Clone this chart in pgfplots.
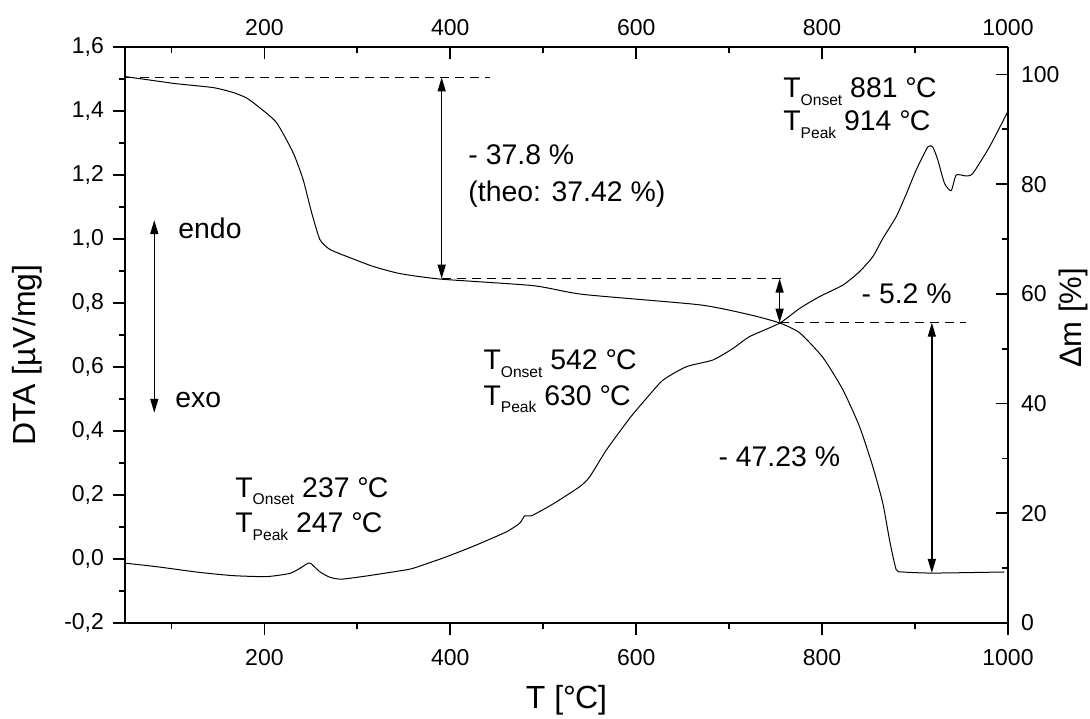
\documentclass[border=0pt]{standalone}
\usepackage{fontspec}
\setmainfont{Liberation Sans}
\usepackage{pgfplots}
\pgfplotsset{compat=1.18}
\usetikzlibrary{arrows.meta}

\newcommand{\ann}{\fontsize{14.2}{16}\selectfont}
\newcommand{\Tsub}[1]{T\raisebox{-3.8pt}{\fontsize{7.8}{9}\selectfont #1}}
\newcommand{\degC}{°\kern-0.03em C}

\tikzset{
  dsh/.style={black, line width=0.5pt, dash pattern=on 4.5pt off 3pt},
  arr/.style={black, line width=0.7pt, {Triangle[length=7pt,width=4pt]}-{Triangle[length=7pt,width=4pt]}},
}

\begin{document}
\begin{tikzpicture}
\path[use as bounding box] (-62.5pt,-47.5pt) rectangle (482.5pt,311.5pt);
\pgfplotsset{
  common/.style={
    scale only axis, width=441.5pt, height=288pt,
    xmin=50, xmax=1000,
    xtick={200,400,600,800,1000},
    minor xtick={100,300,500,700,900},
    major tick length=6pt, minor tick length=3pt,
    every tick/.style={black, line width=0.9pt},
    axis line style={-, line width=1.1pt},
    tick label style={font=\fontsize{11.5}{13}\selectfont},
    /pgf/number format/assume math mode=true,
    /pgf/number format/1000 sep={},
    label style={font=\fontsize{16}{18}\selectfont},
  },
}
\begin{axis}[common,
  axis x line*=bottom, axis y line*=left,
  tick align=outside,
  ymin=-0.2, ymax=1.6,
  ytick={-0.2,0,0.2,0.4,0.6,0.8,1.0,1.2,1.4,1.6},
  yticklabels={{-0,2},{0,0},{0,2},{0,4},{0,6},{0,8},{1,0},{1,2},{1,4},{1,6}},
  minor ytick={-0.1,0.1,0.3,0.5,0.7,0.9,1.1,1.3,1.5},
  xticklabel style={yshift=-3.5pt},
  yticklabel style={xshift=-1pt},
  xlabel={T [\degC]},
  ylabel={DTA [µV/mg]},
  xlabel style={at={(axis description cs:0.5,-0.134)}, anchor=center},
  ylabel style={at={(axis description cs:-0.111,0.465)}, anchor=center},
]
% DTA curve
\addplot[black, line width=0.5pt, smooth, tension=0.35] coordinates {
(50.3,-0.013)(84.1,-0.024)(130.6,-0.042)(166.5,-0.052)(202.4,-0.055)(227.4,-0.045)
(238.2,-0.029)(247.1,-0.013)(250.8,-0.016)(259.7,-0.040)(270.4,-0.057)(283.0,-0.063)
(309.9,-0.053)(345.7,-0.037)(360.0,-0.029)(395.9,0.007)(428.2,0.044)(460.4,0.085)
(474.7,0.112)(480.1,0.135)(487.3,0.135)(510.5,0.172)(539.2,0.226)(550.0,0.257)
(568.0,0.341)(593.0,0.440)(611.0,0.502)(628.8,0.559)(654.0,0.601)(682.6,0.622)
(704.1,0.658)(722.0,0.695)(754.3,0.737)(775.8,0.783)(797.3,0.820)(822.4,0.856)
(840.3,0.898)(854.6,0.945)(865.4,1.002)(879.8,1.070)(890.5,1.140)(901.3,1.216)
(913.8,1.288)(919.2,1.287)(924.5,1.247)(931.7,1.174)(938.9,1.151)(944.3,1.200)
(955.1,1.197)(962.2,1.205)(980.1,1.288)(999.8,1.398)
};
% endo / exo
\draw[arr] (axis cs:81.5,1.059) -- (axis cs:81.5,0.457);
\node[anchor=base west, inner sep=0pt, font=\ann] at (axis cs:107,1.003) {endo};
\node[anchor=base west, inner sep=0pt, font=\ann] at (axis cs:103.8,0.472) {exo};
\end{axis}

\begin{axis}[common,
  axis x line*=top, axis y line*=right,
  tick align=inside,
  clip=false,
  ymin=0, ymax=105,
  ytick={0,20,40,60,80,100},
  minor ytick={10,30,50,70,90},
  xticklabel style={yshift=2.3pt},
  yticklabel style={xshift=3pt},
  ylabel={Δm [\%]},
  ylabel style={at={(axis description cs:1.0747,0.5295)}, anchor=center, font=\fontsize{15.5}{18}\selectfont},
]
% TG curve
\addplot[black, line width=0.5pt, smooth, tension=0.35] coordinates {
(50.3,99.6)(84.1,98.8)(105.6,98.3)(144.9,97.6)(166.5,96.7)(180.9,95.7)(195.2,93.9)
(213.1,91.2)(231.0,85.7)(241.7,80.8)(250.8,74.8)(259.7,69.9)(270.4,68.1)(291.9,66.6)
(317.0,65.0)(345.7,63.7)(388.7,62.7)(489.0,61.5)(542.8,59.9)(668.3,58.0)(722.0,56.2)
(754.3,54.7)(775.8,52.9)(800.9,48.4)(822.4,42.5)(840.3,35.8)(854.6,28.5)(865.4,21.8)
(872.6,15.1)(879.8,9.7)(886.9,9.3)(919.2,9.1)(996.2,9.3)
};
% mass-loss annotations
\draw[dsh] (axis cs:50,99.45) -- (axis cs:443.2,99.45);
\draw[arr] (axis cs:390.7,99.45) -- (axis cs:390.7,62.77);
\draw[dsh] (axis cs:390.7,62.77) -- (axis cs:756.1,62.77);
\draw[arr] (axis cs:754.3,62.77) -- (axis cs:754.3,54.74);
\draw[dsh] (axis cs:754.3,54.74) -- (axis cs:955.0,54.74);
\draw[arr] (axis cs:918.1,54.74) -- (axis cs:918.1,9.12);

\node[anchor=base west, inner sep=0pt, font=\ann] at (axis cs:419.1,83.6) {- 37.8 \%};
\node[anchor=base west, inner sep=0pt, font=\ann] at (axis cs:419.1,76.8) {(theo: 37.42 \%)};
\node[anchor=base west, inner sep=0pt, font=\ann] at (axis cs:842.2,58.3) {- 5.2 \%};
\node[anchor=base west, inner sep=0pt, font=\ann] at (axis cs:688.2,28.5) {- 47.23 \%};

\node[anchor=base west, inner sep=0pt, font=\ann] at (axis cs:757.9,95.8) {\Tsub{Onset} 881 \degC};
\node[anchor=base west, inner sep=0pt, font=\ann] at (axis cs:757.9,89.7) {\Tsub{Peak} 914 \degC};
\node[anchor=base west, inner sep=0pt, font=\ann] at (axis cs:435.3,46.2) {\Tsub{Onset} 542 \degC};
\node[anchor=base west, inner sep=0pt, font=\ann] at (axis cs:435.3,39.7) {\Tsub{Peak} 630 \degC};
\node[anchor=base west, inner sep=0pt, font=\ann] at (axis cs:168.3,22.9) {\Tsub{Onset} 237 \degC};
\node[anchor=base west, inner sep=0pt, font=\ann] at (axis cs:168.3,16.5) {\Tsub{Peak} 247 \degC};
\end{axis}
\end{tikzpicture}
\end{document}
